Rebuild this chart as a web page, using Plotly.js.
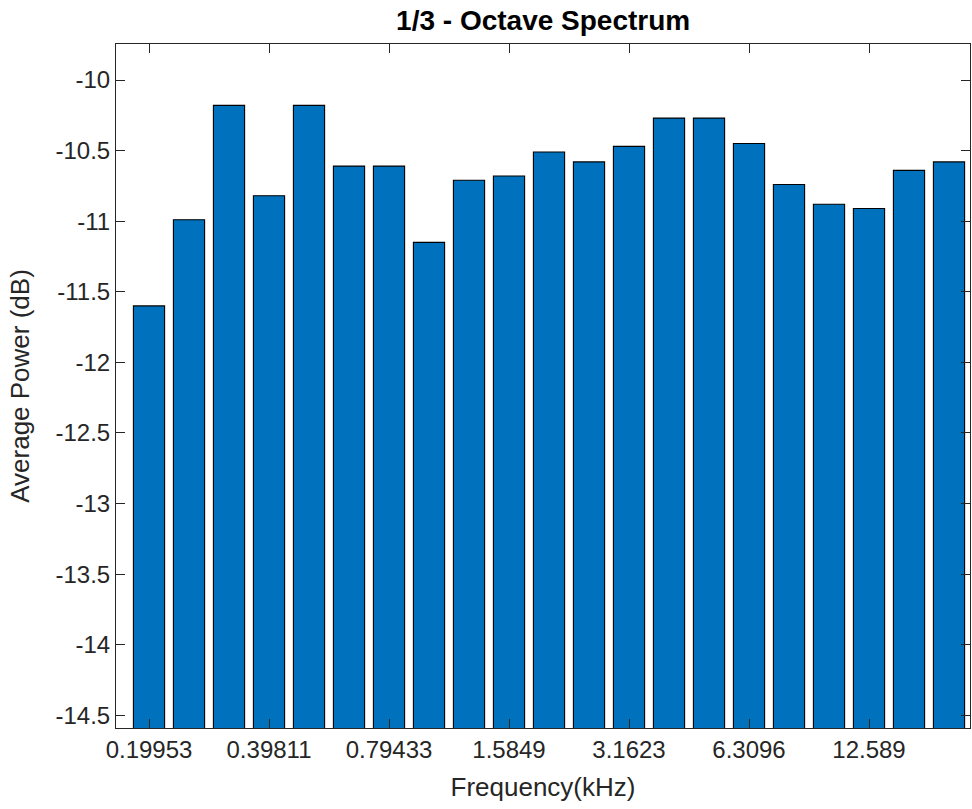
<!DOCTYPE html>
<html>
<head>
<meta charset="utf-8">
<script src="https://cdn.plot.ly/plotly-3.0.1.min.js"></script>
<style>html,body{margin:0;padding:0;background:#fff;} #chart{width:972px;height:809px;}</style>
</head>
<body>
<div id="chart"></div>
<script>
// 1/3-octave band centre frequencies (kHz)
const freqsKHz = [0.19953, 0.25119, 0.31623, 0.39811, 0.50119, 0.63096, 0.79433, 1.0, 1.2589, 1.5849,
                  1.9953, 2.5119, 3.1623, 3.9811, 5.0119, 6.3096, 7.9433, 10.0, 12.589, 15.849, 19.953];
// Average power per band (dB)
const avgPowerDb = [-11.60, -10.99, -10.18, -10.82, -10.18, -10.61, -10.61, -11.15, -10.71, -10.68,
                    -10.51, -10.58, -10.47, -10.27, -10.27, -10.45, -10.74, -10.88, -10.91, -10.64, -10.58];
// x tick positions (band index) and labels
const xTickIdx = [1, 4, 7, 10, 13, 16, 19];
const xTickLabels = ['0.19953', '0.39811', '0.79433', '1.5849', '3.1623', '6.3096', '12.589'];
// y ticks
const yTickVals = [-14.5, -14, -13.5, -13, -12.5, -12, -11.5, -11, -10.5, -10];
const yTickLabels = ['-14.5', '-14', '-13.5', '-13', '-12.5', '-12', '-11.5', '-11', '-10.5', '-10'];
const baseValue = -15;

const bandIdx = freqsKHz.map((f, i) => i + 1);

const trace = {
  type: 'bar',
  x: bandIdx,
  y: avgPowerDb.map(v => v - baseValue),
  base: avgPowerDb.map(() => baseValue),
  width: 0.78,
  marker: {color: '#0072BD', line: {color: '#000000', width: 1.1}},
  hovertemplate: '%{customdata} kHz: %{y}<extra></extra>',
  customdata: freqsKHz
};

const axisColor = '#262626';
const font = 'Arial, "Liberation Sans", Helvetica, sans-serif';

const layout = {
  width: 972, height: 809,
  margin: {l: 116, r: 2, t: 44, b: 81},
  paper_bgcolor: '#ffffff', plot_bgcolor: '#ffffff',
  showlegend: false,
  bargap: 0.2,
  font: {family: font, color: axisColor},
  title: {
    text: '<b>1/3 - Octave Spectrum</b>',
    font: {family: font, size: 28, color: '#000000'},
    x: 0.5588, xanchor: 'center', y: 0.975, yanchor: 'middle'
  },
  xaxis: {
    range: [0.175, 21.525],
    tickmode: 'array', tickvals: xTickIdx, ticktext: xTickLabels,
    ticks: 'inside', ticklen: 9, tickwidth: 1, tickcolor: axisColor,
    showline: true, linecolor: axisColor, linewidth: 1, mirror: 'ticks',
    showgrid: false, zeroline: false,
    tickfont: {family: font, size: 24, color: axisColor},
    title: {text: 'Frequency(kHz)', font: {family: font, size: 26, color: axisColor}, standoff: 16}
  },
  yaxis: {
    range: [-14.59, -9.745],
    tickmode: 'array', tickvals: yTickVals, ticktext: yTickLabels,
    ticks: 'inside', ticklen: 9, tickwidth: 1, tickcolor: axisColor,
    showline: true, linecolor: axisColor, linewidth: 1, mirror: 'ticks',
    showgrid: false, zeroline: false,
    tickfont: {family: font, size: 24, color: axisColor},
    title: {text: 'Average Power (dB)', font: {family: font, size: 26, color: axisColor}, standoff: 18}
  }
};

Plotly.newPlot('chart', [trace], layout, {displayModeBar: false, staticPlot: true});
</script>
</body>
</html>
